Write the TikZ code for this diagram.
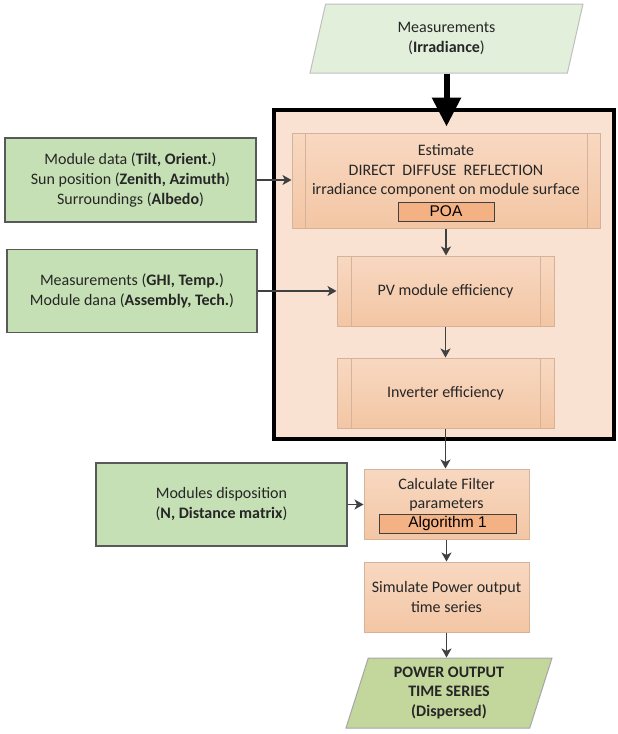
\documentclass[tikz,border=0pt]{standalone}
\usepackage{fontspec}
\setmainfont{Carlito}
\newfontfamily\arialfont{Liberation Sans}
\usetikzlibrary{shapes.geometric,arrows.meta}

\definecolor{textgray}{HTML}{262626}
\definecolor{arrowgray}{HTML}{404040}
\definecolor{greenfill}{HTML}{C5E0B4}
\definecolor{greenline}{HTML}{595959}
\definecolor{palegreen}{HTML}{E2EFDA}
\definecolor{paleline}{HTML}{BFBFBF}
\definecolor{olivefill}{HTML}{C3D69B}
\definecolor{oliveline}{HTML}{A6A6A6}
\definecolor{framefill}{HTML}{FAE2D2}
\definecolor{proctop}{HTML}{F8D8C1}
\definecolor{procbot}{HTML}{F3C6A4}
\definecolor{procline}{HTML}{D5B39A}
\definecolor{poafill}{HTML}{F4B183}

\tikzset{
  txt/.style={text=textgray, align=center, inner sep=0pt, font=\fontsize{16}{19.5}\selectfont},
  datain/.style={txt, draw=greenline, fill=greenfill, line width=1.2pt,
    minimum width=251pt, minimum height=84pt, font=\fontsize{16}{20}\selectfont},
  procbox/.style={draw=procline, line width=1pt, top color=proctop, bottom color=procbot},
  subproc/.style={procbox, path picture={
    \draw[procline, line width=0.8pt] ([xshift=#1]path picture bounding box.north west) -- ([xshift=#1]path picture bounding box.south west);
    \draw[procline, line width=0.8pt] ([xshift=-#1]path picture bounding box.north east) -- ([xshift=-#1]path picture bounding box.south east);}},
  algbox/.style={draw=arrowgray, fill=poafill, line width=1pt, inner sep=0pt, text=black,
    font=\arialfont\fontsize{15.5}{15.5}\selectfont},
  slanted/.style={txt, trapezium, trapezium stretches body, inner sep=0pt},
  core/.style={draw=black, line width=4pt, fill=framefill, minimum width=340pt, minimum height=329pt},
  flow/.style={draw=arrowgray, line width=1.3pt, -{Stealth[length=9pt,width=10pt,inset=2.5pt]}},
  feed/.style={draw=black, line width=6pt, -{Triangle[length=29pt,width=28pt]}}
}

\begin{document}
\begin{tikzpicture}[x=1pt,y=1pt,yscale=-1,xscale=1]
\useasboundingbox (0,0) rectangle (618,734);

%Shape: Frame
\node [core] (core) at (444,274.5) {};

%Shape: Parallelogram (input)
\node [slanted, draw=paleline, fill=palegreen, line width=1pt, trapezium left angle=64, trapezium right angle=116,
  minimum width=273pt, minimum height=69pt] (meas) at (446.5,38.5) {Measurements\\(\textbf{Irradiance})};

%Shape: Predefined processes
\node [subproc=13pt, minimum width=308pt, minimum height=95pt] (est) at (446,180.5) {};
\node [subproc=14pt, minimum width=217pt, minimum height=70pt, txt] (pv) at (445.5,291) {PV module efficiency};
\node [subproc=14pt, minimum width=217pt, minimum height=70pt, txt] (inv) at (445.5,393) {Inverter efficiency};

% Text Node
\node [txt] (estlbl) at (446,171) {Estimate\\DIRECT\ \ DIFFUSE\ \ REFLECTION\\irradiance component on module surface};
\node [algbox, minimum width=96pt, minimum height=19pt] (poa) at (446,211.5) {POA};

%Shape: Data boxes
\node [datain] (geo) at (130.5,180) {Module data (\textbf{Tilt, Orient.})\\Sun position (\textbf{Zenith, Azimuth})\\Surroundings (\textbf{Albedo})};
\node [datain, minimum width=250pt, minimum height=83pt] (meteo) at (132,291) {Measurements (\textbf{GHI, Temp.})\\Module dana (\textbf{Assembly, Tech.})};
\node [datain, minimum height=83pt] (layout) at (221.5,504.5) {Modules disposition\\(\textbf{N, Distance matrix})};

%Shape: Processes
\node [procbox, minimum width=165pt, minimum height=70pt] (calc) at (446.5,504) {};
\node [txt] (calclbl) at (446.5,494.5) {Calculate Filter\\parameters};
\node [algbox, minimum width=137pt, minimum height=19pt] (alg) at (447.5,523.5) {Algorithm 1};
\node [procbox, minimum width=165pt, minimum height=70pt, txt] (sim) at (446.5,597) {Simulate Power output\\time series};

%Shape: Parallelogram (output)
\node [slanted, draw=oliveline, fill=olivefill, line width=1pt, trapezium left angle=66.8, trapezium right angle=113.2,
  minimum width=206pt, minimum height=70pt] (out) at (449,693) {\textbf{POWER OUTPUT}\\\textbf{TIME SERIES}\\\textbf{(Dispersed)}};

%Straight Lines
\draw [feed, shorten >=6pt] (meas.south |- meas.south) -- (meas.south |- est.north);
\draw [flow] (geo.east) -- (geo.east -| est.west);
\draw [flow] (meteo.east) -- (meteo.east -| pv.west);
\draw [flow] (est.south) -- (est.south |- pv.north);
\draw [flow] (pv.south) -- (inv.north);
\draw [flow] (inv.south) -- (inv.south |- calc.north);
\draw [flow] (layout.east) -- (layout.east -| calc.west);
\draw [flow] (calc.south) -- (sim.north);
\draw [flow] (sim.south) -- (sim.south |- out.north);
\end{tikzpicture}
\end{document}
